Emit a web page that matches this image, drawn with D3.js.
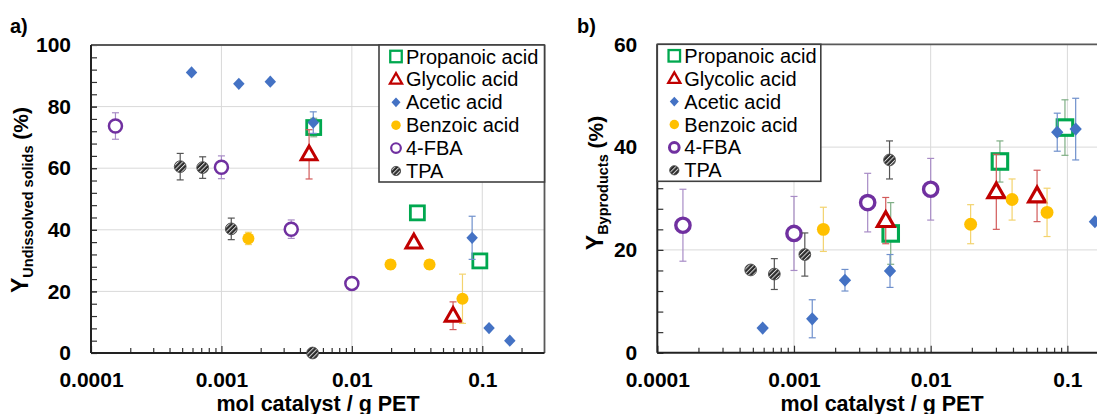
<!DOCTYPE html>
<html><head><meta charset="utf-8">
<script src="https://cdn.jsdelivr.net/npm/d3@7"></script>
<style>body{margin:0;background:#fff}svg{display:block;font-family:"Liberation Sans",Arial,sans-serif}</style>
</head><body><svg id="c" width="1097" height="414"></svg>
<script>
const seriesNames = ["Propanoic acid","Glycolic acid","Acetic acid","Benzoic acid","4-FBA","TPA"];
const xTickValues = [0.0001, 0.001, 0.01, 0.1];
const xTickLabels = ["0.0001", "0.001", "0.01", "0.1"];
const yTicksA = [0, 20, 40, 60, 80, 100];
const yTicksB = [0, 20, 40, 60];

// [mol catalyst / g PET, yield (%), error (%)]
const aPropanoic = [[0.0051,73.2,3],[0.0318,45.5,0],[0.0958,29.9,0]];
const aGlycolic  = [[0.0047,64.5,8],[0.0299,35.9,0],[0.0597,12.1,4.5]];
const aAcetic    = [[0.00059,91.1,0],[0.00136,87.4,0],[0.00237,88.1,0],[0.00506,74.8,3.5],[0.0836,37.4,7],[0.1127,8.1,0],[0.1626,4.0,0]];
const aBenzoic   = [[0.00161,37.2,2],[0.0198,28.7,1.5],[0.0394,28.7,1.5],[0.0705,17.6,8]];
const aFBA       = [[0.000154,73.7,4.3],[0.001,60.3,3.7],[0.00343,40.2,3],[0.01,22.6,0]];
const aTPA       = [[0.000483,60.5,4.3],[0.000718,60.2,3.5],[0.00119,40.3,3.5],[0.005,0,0]];

const bPropanoic = [[0.0051,23.2,6],[0.0321,37.2,4],[0.096,43.8,5.4]];
const bGlycolic  = [[0.00469,25.7,4.5],[0.0302,31.3,7.3],[0.06,30.5,5]];
const bAcetic    = [[0.00059,4.8,0],[0.00136,6.6,3.7],[0.00236,14.1,2.1],[0.00504,15.9,3.2],[0.0843,42.9,3.7],[0.115,43.5,6],[0.159,25.5,0]];
const bBenzoic   = [[0.00164,24.0,4.3],[0.0196,25.0,3.8],[0.0394,29.8,4],[0.071,27.3,4.7]];
const bFBA       = [[0.000154,24.8,7],[0.001,23.2,7.2],[0.00346,29.2,5.7],[0.01,31.8,6]];
const bTPA       = [[0.000482,16.1,0],[0.000718,15.3,3],[0.0012,19.1,4.2],[0.005,37.5,3.7]];

const svg = d3.select("#c");
const defs = svg.append("defs");
const pat = defs.append("pattern").attr("id","hatch").attr("patternUnits","userSpaceOnUse")
  .attr("width",3.2).attr("height",3.2).attr("patternTransform","rotate(45)");
pat.append("rect").attr("width",3.2).attr("height",3.2).attr("fill","#2b2b2b");
pat.append("rect").attr("x",0).attr("width",1.0).attr("height",3.2).attr("fill","#d8d8d8");

const styles = {
  "Propanoic acid": {type:"square", color:"#00A84F", err:"#7fae85"},
  "Glycolic acid":  {type:"triangle", color:"#C00000", err:"#d25a5a"},
  "Acetic acid":    {type:"diamond", color:"#4472C4", err:"#6f90cc"},
  "Benzoic acid":   {type:"dot", color:"#FFC000", err:"#f3d36e"},
  "4-FBA":          {type:"ring", color:"#7030A0", err:"#a88cc6"},
  "TPA":            {type:"hatch", color:"#333", err:"#555"}
};

function marker(g, type, cx, cy, s, color, ringW) {
  if (type === "square") {
    g.append("rect").attr("x",cx-s/2).attr("y",cy-s/2).attr("width",s).attr("height",s)
      .attr("fill","#fff").attr("stroke",color).attr("stroke-width",s*0.2);
  } else if (type === "triangle") {
    const w = s*1.05, h = s*0.92;
    g.append("path").attr("d",`M${cx},${cy-h*0.6}L${cx+w/2},${cy+h*0.4}L${cx-w/2},${cy+h*0.4}Z`)
      .attr("fill","#fff").attr("stroke",color).attr("stroke-width",s*0.2).attr("stroke-linejoin","miter");
  } else if (type === "diamond") {
    const w = s*0.82, h = s*0.88;
    g.append("path").attr("d",`M${cx},${cy-h/2}L${cx+w/2},${cy}L${cx},${cy+h/2}L${cx-w/2},${cy}Z`)
      .attr("fill",color);
  } else if (type === "dot") {
    g.append("circle").attr("cx",cx).attr("cy",cy).attr("r",s*0.43).attr("fill",color);
  } else if (type === "ring") {
    g.append("circle").attr("cx",cx).attr("cy",cy).attr("r",s*0.42)
      .attr("fill","#fff").attr("stroke",color).attr("stroke-width",ringW || s*0.17);
  } else if (type === "hatch") {
    g.append("circle").attr("cx",cx).attr("cy",cy).attr("r",s*0.42)
      .attr("fill","url(#hatch)").attr("stroke","#4a4a4a").attr("stroke-width",0.9);
  }
}

function panel(cfg) {
  const {left, right, top, bottom, yMax, yTicks, data, msize, labelX, labelY, sub, letter, letterX, titleX} = cfg;
  const x = d3.scaleLog().domain([0.0001, 0.3]).range([left, right]);
  const y = d3.scaleLinear().domain([0, yMax]).range([bottom, top]);
  const g = svg.append("g");

  // gridlines
  g.append("g").selectAll("line").data(yTicks.filter(v => v > 0 && v < yMax)).join("line")
    .attr("x1", left).attr("x2", right).attr("y1", d => y(d)).attr("y2", d => y(d))
    .attr("stroke","#d9d9d9").attr("stroke-width",1);
  g.append("g").selectAll("line").data(xTickValues.filter(v => v > 0.0001)).join("line")
    .attr("x1", d => x(d)).attr("x2", d => x(d)).attr("y1", top).attr("y2", bottom)
    .attr("stroke","#d9d9d9").attr("stroke-width",1);

  // minor x ticks
  const minors = [];
  for (let k = -4; k <= -1; k++) for (let m = 2; m <= 9; m++) { const v = m * Math.pow(10, k); if (v <= 0.3) minors.push(v); }
  const ax1 = g.append("g").attr("transform",`translate(0,${bottom})`)
    .call(d3.axisBottom(x).tickValues(minors).tickSizeInner(-5).tickSizeOuter(0).tickFormat(""));
  ax1.select(".domain").remove();
  ax1.selectAll("line").attr("stroke","#333").attr("stroke-width",1.2);
  const ax2 = g.append("g").attr("transform",`translate(0,${bottom})`)
    .call(d3.axisBottom(x).tickValues(xTickValues).tickSizeInner(-7).tickSizeOuter(0).tickPadding(19)
      .tickFormat((d,i) => xTickLabels[i]));
  ax2.select(".domain").remove();
  ax2.selectAll("line").attr("stroke","#333").attr("stroke-width",1.2);
  ax2.selectAll("text").attr("font-size",21).attr("font-weight","bold").attr("fill","#000")
    .attr("font-family",'"Liberation Sans",Arial,sans-serif');

  // y ticks
  const yMinor = d3.range(0, yMax + 0.01, 4);
  const ay1 = g.append("g").attr("transform",`translate(${left},0)`)
    .call(d3.axisLeft(y).tickValues(yMinor).tickSizeInner(-6).tickSizeOuter(0).tickFormat(""));
  ay1.select(".domain").remove();
  ay1.selectAll("line").attr("stroke","#333").attr("stroke-width",1.2);
  const ay2 = g.append("g").attr("transform",`translate(${left},0)`)
    .call(d3.axisLeft(y).tickValues(yTicks).tickSizeInner(-6).tickSizeOuter(0).tickPadding(20).tickFormat(d3.format("d")));
  ay2.select(".domain").remove();
  ay2.selectAll("line").attr("stroke","#333");
  ay2.selectAll("text").attr("font-size",21).attr("font-weight","bold").attr("fill","#000")
    .attr("font-family",'"Liberation Sans",Arial,sans-serif');

  // frame
  g.append("line").attr("x1",left).attr("x2",right).attr("y1",top).attr("y2",top).attr("stroke","#595959").attr("stroke-width",1.8);
  g.append("line").attr("x1",right).attr("x2",right).attr("y1",top).attr("y2",bottom).attr("stroke","#595959").attr("stroke-width",1.8);
  g.append("line").attr("x1",left).attr("x2",left).attr("y1",top).attr("y2",bottom).attr("stroke","#222").attr("stroke-width",2);
  g.append("line").attr("x1",left).attr("x2",right).attr("y1",bottom).attr("y2",bottom).attr("stroke","#222").attr("stroke-width",2);

  // data
  seriesNames.forEach((name, i) => {
    const st = styles[name];
    const sg = g.append("g");
    data[i].forEach(([xv, yv, e]) => {
      const cx = x(xv), cy = y(yv);
      if (e > 0) {
        const y1 = y(yv + e), y2 = y(Math.max(0, yv - e));
        sg.append("line").attr("x1",cx).attr("x2",cx).attr("y1",y1).attr("y2",y2).attr("stroke",st.err).attr("stroke-width",1.2);
        [y1, y2].forEach(yy => sg.append("line").attr("x1",cx-3.5).attr("x2",cx+3.5).attr("y1",yy).attr("y2",yy).attr("stroke",st.err).attr("stroke-width",1.2));
      }
      marker(sg, st.type, cx, cy, msize[st.type], st.color, cfg.ringW);
    });
  });

  // legend
  const lx = cfg.legendX;
  g.append("rect").attr("x",lx).attr("y",top).attr("width",cfg.legendW).attr("height",137)
    .attr("fill","#fff").attr("stroke","#404040").attr("stroke-width",1.6);
  seriesNames.forEach((name, i) => {
    const cy = top + 11.5 + i * 22.9;
    marker(g, styles[name].type, lx + 17, cy, {square:11.5,triangle:11.5,diamond:11,dot:11,ring:11.5,hatch:11}[styles[name].type], styles[name].color, cfg.legRingW);
    g.append("text").attr("x", lx + 27).attr("y", cy + 7).attr("font-size",20).attr("fill","#000").text(name);
  });

  // axis titles
  g.append("text").attr("x", titleX).attr("y", 410.5).attr("text-anchor","middle")
    .attr("font-size",21.5).attr("font-weight","bold").text("mol catalyst / g PET");
  const yl = g.append("text").attr("transform",`translate(${labelX},${labelY}) rotate(-90)`)
    .attr("text-anchor","middle").attr("font-weight","bold");
  yl.append("tspan").attr("font-size",23).text("Y");
  yl.append("tspan").attr("font-size",14.5).attr("dy",5).text(sub);
  yl.append("tspan").attr("font-size",21).attr("dy",-5).text("\u00a0(%)");

  svg.append("text").attr("x", letterX).attr("y", 33).attr("font-size",20).attr("font-weight","bold").text(letter);
}

panel({left:91, right:544.5, top:45, bottom:353, yMax:100, yTicks:yTicksA,
  data:[aPropanoic,aGlycolic,aAcetic,aBenzoic,aFBA,aTPA],
  msize:{square:14,triangle:15,diamond:14,dot:14,ring:15.5,hatch:14},
  ringW:2.5, legRingW:2.2,
  labelX:28, labelY:200, sub:"Undissolved solids", letter:"a)", letterX:10, titleX:318,
  legendX:379, legendW:165.5});

panel({left:657.3, right:1132.6, top:44.3, bottom:352.7, yMax:60, yTicks:yTicksB,
  data:[bPropanoic,bGlycolic,bAcetic,bBenzoic,bFBA,bTPA],
  msize:{square:15.5,triangle:16,diamond:15,dot:15,ring:17,hatch:14},
  ringW:3.4, legRingW:3,
  labelX:603, labelY:183, sub:"Byproducts", letter:"b)", letterX:577, titleX:882,
  legendX:657.3, legendW:163.5});
</script>
</body></html>
